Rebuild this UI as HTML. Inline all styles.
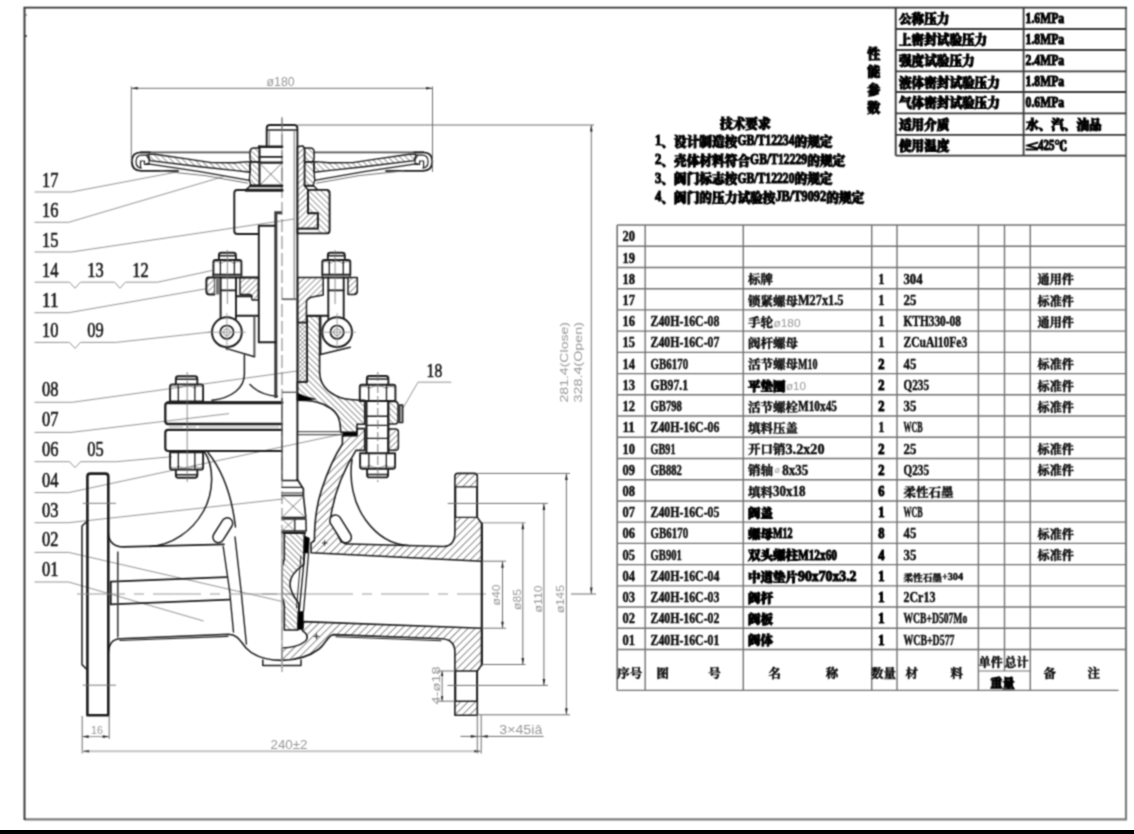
<!DOCTYPE html>
<html lang="zh"><head><meta charset="utf-8"><title>Z40H-16C 闸阀装配图</title>
<style>
html,body{margin:0;padding:0;background:#fff;}
body{width:1134px;height:834px;overflow:hidden;position:relative;font-family:"Liberation Serif","Noto Serif CJK SC",serif;}
svg{position:absolute;left:0;top:0;display:block;}
.t{font-family:"Liberation Serif","Noto Serif CJK SC",serif;font-weight:700;fill:#0a0a0a;stroke:#0a0a0a;stroke-width:.45px;}
.tb{font-family:"Liberation Serif","Noto Serif CJK SC",serif;font-weight:900;fill:#000;stroke:#000;stroke-width:1.05px;}
.n{font-family:"Liberation Serif","Noto Serif CJK SC",serif;font-weight:400;fill:#111;stroke:#111;stroke-width:.55px;}
.d{font-family:"Liberation Sans",sans-serif;font-weight:400;fill:#979797;}
.k{stroke:#1c1c1c;fill:none;stroke-linecap:round;stroke-linejoin:round;}
.g{stroke:#6e6e6e;fill:none;}
.l{stroke:#8e8e8e;fill:none;}
</style></head><body>
<svg width="1134" height="834" viewBox="0 0 1134 834">
<defs>
<filter id="soft" filterUnits="userSpaceOnUse" x="0" y="0" width="1134" height="834" color-interpolation-filters="sRGB"><feConvolveMatrix order="3" kernelMatrix="0.0484 0.1232 0.0484 0.1232 0.3136 0.1232 0.0484 0.1232 0.0484" divisor="1" edgeMode="duplicate" preserveAlpha="false"/></filter>
<pattern id="h1" patternUnits="userSpaceOnUse" width="4.2" height="4.2" patternTransform="rotate(-45)"><line x1="0" y1="0" x2="4.2" y2="0" stroke="#3a3a3a" stroke-width="1"/></pattern>
<pattern id="h2" patternUnits="userSpaceOnUse" width="4.2" height="4.2" patternTransform="rotate(45)"><line x1="0" y1="0" x2="4.2" y2="0" stroke="#3a3a3a" stroke-width="1"/></pattern>
<pattern id="h1b" patternUnits="userSpaceOnUse" width="5.2" height="5.2" patternTransform="rotate(-45)"><line x1="0" y1="0" x2="5.2" y2="0" stroke="#444" stroke-width="1.25"/></pattern>
<pattern id="h3" patternUnits="userSpaceOnUse" width="3.1" height="3.1" patternTransform="rotate(45)"><path d="M0,0H3.1M0,0V3.1" stroke="#333" stroke-width="0.7" fill="none"/></pattern>
</defs>
<g filter="url(#soft)">
<line x1="1126" y1="7.5" x2="1126" y2="820" class="" stroke-width="2.2" stroke="#7d7d7d"/>
<line x1="24.5" y1="819.4" x2="1127" y2="819.4" class="" stroke-width="2.4" stroke="#7d7d7d"/>
<line x1="23.6" y1="7.6" x2="1127" y2="7.6" class="" stroke-width="1.9" stroke="#333"/>
<line x1="24.5" y1="7.5" x2="24.5" y2="820" class="" stroke-width="1.9" stroke="#333"/>
<line x1="25" y1="15" x2="27" y2="15" class="" stroke-width="1" stroke="#555"/>
<line x1="25" y1="36" x2="27" y2="36" class="" stroke-width="1.4" stroke="#333"/>
<line x1="617.2" y1="225" x2="1126" y2="225" class="" stroke-width="1.4" stroke="#707070"/>
<line x1="617.2" y1="246.22" x2="1126" y2="246.22" class="" stroke-width="1.4" stroke="#707070"/>
<line x1="617.2" y1="267.45" x2="1126" y2="267.45" class="" stroke-width="1.4" stroke="#707070"/>
<line x1="617.2" y1="288.68" x2="1126" y2="288.68" class="" stroke-width="1.4" stroke="#707070"/>
<line x1="617.2" y1="309.9" x2="1126" y2="309.9" class="" stroke-width="1.4" stroke="#707070"/>
<line x1="617.2" y1="331.12" x2="1126" y2="331.12" class="" stroke-width="1.4" stroke="#707070"/>
<line x1="617.2" y1="352.35" x2="1126" y2="352.35" class="" stroke-width="1.4" stroke="#707070"/>
<line x1="617.2" y1="373.58" x2="1126" y2="373.58" class="" stroke-width="1.4" stroke="#707070"/>
<line x1="617.2" y1="394.8" x2="1126" y2="394.8" class="" stroke-width="1.4" stroke="#707070"/>
<line x1="617.2" y1="416.02" x2="1126" y2="416.02" class="" stroke-width="1.4" stroke="#707070"/>
<line x1="617.2" y1="437.25" x2="1126" y2="437.25" class="" stroke-width="1.4" stroke="#707070"/>
<line x1="617.2" y1="458.48" x2="1126" y2="458.48" class="" stroke-width="1.4" stroke="#707070"/>
<line x1="617.2" y1="479.7" x2="1126" y2="479.7" class="" stroke-width="1.4" stroke="#707070"/>
<line x1="617.2" y1="500.93" x2="1126" y2="500.93" class="" stroke-width="1.4" stroke="#707070"/>
<line x1="617.2" y1="522.15" x2="1126" y2="522.15" class="" stroke-width="1.4" stroke="#707070"/>
<line x1="617.2" y1="543.38" x2="1126" y2="543.38" class="" stroke-width="1.4" stroke="#707070"/>
<line x1="617.2" y1="564.6" x2="1126" y2="564.6" class="" stroke-width="1.4" stroke="#707070"/>
<line x1="617.2" y1="585.83" x2="1126" y2="585.83" class="" stroke-width="1.4" stroke="#707070"/>
<line x1="617.2" y1="607.05" x2="1126" y2="607.05" class="" stroke-width="1.4" stroke="#707070"/>
<line x1="617.2" y1="628.28" x2="1126" y2="628.28" class="" stroke-width="1.4" stroke="#707070"/>
<line x1="617.2" y1="649.5" x2="1126" y2="649.5" class="" stroke-width="1.4" stroke="#707070"/>
<line x1="617.2" y1="690.4" x2="1118.5" y2="690.4" class="" stroke-width="1.4" stroke="#707070"/>
<line x1="617.2" y1="225" x2="617.2" y2="690.4" class="" stroke-width="1.6" stroke="#707070"/>
<line x1="645.2" y1="225" x2="645.2" y2="690.4" class="" stroke-width="1.4" stroke="#707070"/>
<line x1="743.3" y1="225" x2="743.3" y2="690.4" class="" stroke-width="1.4" stroke="#707070"/>
<line x1="871.7" y1="225" x2="871.7" y2="690.4" class="" stroke-width="1.4" stroke="#707070"/>
<line x1="897" y1="225" x2="897" y2="690.4" class="" stroke-width="1.4" stroke="#707070"/>
<line x1="978.4" y1="225" x2="978.4" y2="690.4" class="" stroke-width="1.4" stroke="#707070"/>
<line x1="1004.5" y1="225" x2="1004.5" y2="671" class="" stroke-width="1.4" stroke="#707070"/>
<line x1="1030.3" y1="225" x2="1030.3" y2="690.4" class="" stroke-width="1.4" stroke="#707070"/>
<line x1="978.4" y1="671" x2="1030.3" y2="671" class="" stroke-width="1.2" stroke="#707070"/>
<text x="622.4" y="241.3" font-size="14.12" class="t" textLength="12.5" lengthAdjust="spacingAndGlyphs">20</text>
<text x="622.4" y="262.52" font-size="14.12" class="t" textLength="12.5" lengthAdjust="spacingAndGlyphs">19</text>
<text x="622.4" y="283.75" font-size="14.12" class="t" textLength="12.5" lengthAdjust="spacingAndGlyphs">18</text>
<text x="748" y="284.45" font-size="12.5" class="t" textLength="25" lengthAdjust="spacingAndGlyphs">标牌</text>
<text x="878.2" y="283.75" font-size="14.12" class="t" textLength="6.25" lengthAdjust="spacingAndGlyphs">1</text>
<text x="903.5" y="283.75" font-size="14.12" class="t" textLength="19.12" lengthAdjust="spacingAndGlyphs">304</text>
<text x="1037.6" y="284.45" font-size="12.1" class="t" textLength="36.3" lengthAdjust="spacingAndGlyphs">通用件</text>
<text x="622.4" y="304.98" font-size="14.12" class="t" textLength="12.5" lengthAdjust="spacingAndGlyphs">17</text>
<text x="748" y="305.68" font-size="12.5" class="t" textLength="50" lengthAdjust="spacingAndGlyphs">锁紧螺母</text>
<text x="798" y="304.98" font-size="14.12" class="t" textLength="45.5" lengthAdjust="spacingAndGlyphs">M27x1.5</text>
<text x="878.2" y="304.98" font-size="14.12" class="t" textLength="6.25" lengthAdjust="spacingAndGlyphs">1</text>
<text x="903.5" y="304.98" font-size="14.12" class="t" textLength="12.75" lengthAdjust="spacingAndGlyphs">25</text>
<text x="1037.6" y="305.68" font-size="12.1" class="t" textLength="36.3" lengthAdjust="spacingAndGlyphs">标准件</text>
<text x="622.4" y="326.2" font-size="14.12" class="t" textLength="12.5" lengthAdjust="spacingAndGlyphs">16</text>
<text x="650.6" y="326.2" font-size="14.12" class="t" textLength="68.75" lengthAdjust="spacingAndGlyphs">Z40H-16C-08</text>
<text x="748" y="326.9" font-size="12.5" class="t" textLength="25" lengthAdjust="spacingAndGlyphs">手轮</text>
<text x="878.2" y="326.2" font-size="14.12" class="t" textLength="6.25" lengthAdjust="spacingAndGlyphs">1</text>
<text x="903.5" y="326.2" font-size="14.12" class="t" textLength="57.38" lengthAdjust="spacingAndGlyphs">KTH330-08</text>
<text x="1037.6" y="326.9" font-size="12.1" class="t" textLength="36.3" lengthAdjust="spacingAndGlyphs">通用件</text>
<text x="622.4" y="347.43" font-size="14.12" class="t" textLength="12.5" lengthAdjust="spacingAndGlyphs">15</text>
<text x="650.6" y="347.43" font-size="14.12" class="t" textLength="68.75" lengthAdjust="spacingAndGlyphs">Z40H-16C-07</text>
<text x="748" y="348.12" font-size="12.5" class="t" textLength="50" lengthAdjust="spacingAndGlyphs">阀杆螺母</text>
<text x="878.2" y="347.43" font-size="14.12" class="t" textLength="6.25" lengthAdjust="spacingAndGlyphs">1</text>
<text x="903.5" y="347.43" font-size="14.12" class="t" textLength="63.75" lengthAdjust="spacingAndGlyphs">ZCuAl10Fe3</text>
<text x="622.4" y="368.65" font-size="14.12" class="t" textLength="12.5" lengthAdjust="spacingAndGlyphs">14</text>
<text x="650.6" y="368.65" font-size="14.12" class="t" textLength="37.5" lengthAdjust="spacingAndGlyphs">GB6170</text>
<text x="748" y="369.35" font-size="12.5" class="t" textLength="50" lengthAdjust="spacingAndGlyphs">活节螺母</text>
<text x="798" y="368.65" font-size="14.12" class="t" textLength="19.5" lengthAdjust="spacingAndGlyphs">M10</text>
<text x="878.2" y="368.65" font-size="14.12" class="tb" textLength="6.25" lengthAdjust="spacingAndGlyphs">2</text>
<text x="903.5" y="368.65" font-size="14.12" class="t" textLength="12.75" lengthAdjust="spacingAndGlyphs">45</text>
<text x="1037.6" y="369.35" font-size="12.1" class="t" textLength="36.3" lengthAdjust="spacingAndGlyphs">标准件</text>
<text x="622.4" y="389.88" font-size="14.12" class="t" textLength="12.5" lengthAdjust="spacingAndGlyphs">13</text>
<text x="650.6" y="389.88" font-size="14.12" class="t" textLength="37.5" lengthAdjust="spacingAndGlyphs">GB97.1</text>
<text x="748" y="390.58" font-size="12.5" class="tb" textLength="37.5" lengthAdjust="spacingAndGlyphs">平垫圈</text>
<text x="878.2" y="389.88" font-size="14.12" class="tb" textLength="6.25" lengthAdjust="spacingAndGlyphs">2</text>
<text x="903.5" y="389.88" font-size="14.12" class="t" textLength="25.5" lengthAdjust="spacingAndGlyphs">Q235</text>
<text x="1037.6" y="390.58" font-size="12.1" class="t" textLength="36.3" lengthAdjust="spacingAndGlyphs">标准件</text>
<text x="622.4" y="411.1" font-size="14.12" class="t" textLength="12.5" lengthAdjust="spacingAndGlyphs">12</text>
<text x="650.6" y="411.1" font-size="14.12" class="t" textLength="31.25" lengthAdjust="spacingAndGlyphs">GB798</text>
<text x="748" y="411.8" font-size="12.5" class="t" textLength="50" lengthAdjust="spacingAndGlyphs">活节螺栓</text>
<text x="798" y="411.1" font-size="14.12" class="t" textLength="39" lengthAdjust="spacingAndGlyphs">M10x45</text>
<text x="878.2" y="411.1" font-size="14.12" class="tb" textLength="6.25" lengthAdjust="spacingAndGlyphs">2</text>
<text x="903.5" y="411.1" font-size="14.12" class="t" textLength="12.75" lengthAdjust="spacingAndGlyphs">35</text>
<text x="1037.6" y="411.8" font-size="12.1" class="t" textLength="36.3" lengthAdjust="spacingAndGlyphs">标准件</text>
<text x="622.4" y="432.32" font-size="14.12" class="t" textLength="12.5" lengthAdjust="spacingAndGlyphs">11</text>
<text x="650.6" y="432.32" font-size="14.12" class="t" textLength="68.75" lengthAdjust="spacingAndGlyphs">Z40H-16C-06</text>
<text x="748" y="433.02" font-size="12.5" class="t" textLength="50" lengthAdjust="spacingAndGlyphs">填料压盖</text>
<text x="878.2" y="432.32" font-size="14.12" class="t" textLength="6.25" lengthAdjust="spacingAndGlyphs">1</text>
<text x="903.5" y="432.32" font-size="14.12" class="t" textLength="19.12" lengthAdjust="spacingAndGlyphs">WCB</text>
<text x="622.4" y="453.55" font-size="14.12" class="t" textLength="12.5" lengthAdjust="spacingAndGlyphs">10</text>
<text x="650.6" y="453.55" font-size="14.12" class="t" textLength="25" lengthAdjust="spacingAndGlyphs">GB91</text>
<text x="748" y="454.25" font-size="12.5" class="t" textLength="37.5" lengthAdjust="spacingAndGlyphs">开口销</text>
<text x="785.5" y="453.55" font-size="14.12" class="t" textLength="39" lengthAdjust="spacingAndGlyphs">3.2x20</text>
<text x="878.2" y="453.55" font-size="14.12" class="tb" textLength="6.25" lengthAdjust="spacingAndGlyphs">2</text>
<text x="903.5" y="453.55" font-size="14.12" class="t" textLength="12.75" lengthAdjust="spacingAndGlyphs">25</text>
<text x="1037.6" y="454.25" font-size="12.1" class="t" textLength="36.3" lengthAdjust="spacingAndGlyphs">标准件</text>
<text x="622.4" y="474.78" font-size="14.12" class="t" textLength="12.5" lengthAdjust="spacingAndGlyphs">09</text>
<text x="650.6" y="474.78" font-size="14.12" class="t" textLength="31.25" lengthAdjust="spacingAndGlyphs">GB882</text>
<text x="748" y="475.48" font-size="12.5" class="t" textLength="25" lengthAdjust="spacingAndGlyphs">销轴</text>
<text x="878.2" y="474.78" font-size="14.12" class="tb" textLength="6.25" lengthAdjust="spacingAndGlyphs">2</text>
<text x="903.5" y="474.78" font-size="14.12" class="t" textLength="25.5" lengthAdjust="spacingAndGlyphs">Q235</text>
<text x="1037.6" y="475.48" font-size="12.1" class="t" textLength="36.3" lengthAdjust="spacingAndGlyphs">标准件</text>
<text x="622.4" y="496" font-size="14.12" class="t" textLength="12.5" lengthAdjust="spacingAndGlyphs">08</text>
<text x="748" y="496.7" font-size="12.5" class="t" textLength="25" lengthAdjust="spacingAndGlyphs">填料</text>
<text x="773" y="496" font-size="14.12" class="t" textLength="32.5" lengthAdjust="spacingAndGlyphs">30x18</text>
<text x="878.2" y="496" font-size="14.12" class="tb" textLength="6.25" lengthAdjust="spacingAndGlyphs">6</text>
<text x="903.5" y="496.7" font-size="12.5" class="t" textLength="50" lengthAdjust="spacingAndGlyphs">柔性石墨</text>
<text x="622.4" y="517.23" font-size="14.12" class="t" textLength="12.5" lengthAdjust="spacingAndGlyphs">07</text>
<text x="650.6" y="517.23" font-size="14.12" class="t" textLength="68.75" lengthAdjust="spacingAndGlyphs">Z40H-16C-05</text>
<text x="748" y="517.93" font-size="12.5" class="tb" textLength="25" lengthAdjust="spacingAndGlyphs">阀盖</text>
<text x="878.2" y="517.23" font-size="14.12" class="tb" textLength="6.25" lengthAdjust="spacingAndGlyphs">1</text>
<text x="903.5" y="517.23" font-size="14.12" class="t" textLength="19.12" lengthAdjust="spacingAndGlyphs">WCB</text>
<text x="622.4" y="538.45" font-size="14.12" class="t" textLength="12.5" lengthAdjust="spacingAndGlyphs">06</text>
<text x="650.6" y="538.45" font-size="14.12" class="t" textLength="37.5" lengthAdjust="spacingAndGlyphs">GB6170</text>
<text x="748" y="539.15" font-size="12.5" class="tb" textLength="25" lengthAdjust="spacingAndGlyphs">螺母</text>
<text x="773" y="538.45" font-size="14.12" class="tb" textLength="19.5" lengthAdjust="spacingAndGlyphs">M12</text>
<text x="878.2" y="538.45" font-size="14.12" class="tb" textLength="6.25" lengthAdjust="spacingAndGlyphs">8</text>
<text x="903.5" y="538.45" font-size="14.12" class="t" textLength="12.75" lengthAdjust="spacingAndGlyphs">45</text>
<text x="1037.6" y="539.15" font-size="12.1" class="t" textLength="36.3" lengthAdjust="spacingAndGlyphs">标准件</text>
<text x="622.4" y="559.67" font-size="14.12" class="t" textLength="12.5" lengthAdjust="spacingAndGlyphs">05</text>
<text x="650.6" y="559.67" font-size="14.12" class="t" textLength="31.25" lengthAdjust="spacingAndGlyphs">GB901</text>
<text x="748" y="560.38" font-size="12.5" class="tb" textLength="50" lengthAdjust="spacingAndGlyphs">双头螺柱</text>
<text x="798" y="559.67" font-size="14.12" class="tb" textLength="39" lengthAdjust="spacingAndGlyphs">M12x60</text>
<text x="878.2" y="559.67" font-size="14.12" class="tb" textLength="6.25" lengthAdjust="spacingAndGlyphs">4</text>
<text x="903.5" y="559.67" font-size="14.12" class="t" textLength="12.75" lengthAdjust="spacingAndGlyphs">35</text>
<text x="1037.6" y="560.38" font-size="12.1" class="t" textLength="36.3" lengthAdjust="spacingAndGlyphs">标准件</text>
<text x="622.4" y="580.9" font-size="14.12" class="t" textLength="12.5" lengthAdjust="spacingAndGlyphs">04</text>
<text x="650.6" y="580.9" font-size="14.12" class="t" textLength="68.75" lengthAdjust="spacingAndGlyphs">Z40H-16C-04</text>
<text x="748" y="581.6" font-size="12.5" class="tb" textLength="50" lengthAdjust="spacingAndGlyphs">中道垫片</text>
<text x="798" y="580.9" font-size="14.12" class="tb" textLength="58.5" lengthAdjust="spacingAndGlyphs">90x70x3.2</text>
<text x="878.2" y="580.9" font-size="14.12" class="tb" textLength="6.25" lengthAdjust="spacingAndGlyphs">1</text>
<text x="903.5" y="581.1" font-size="9.6" class="t" textLength="38.4" lengthAdjust="spacingAndGlyphs">柔性石墨</text>
<text x="941.9" y="580.4" font-size="10.85" class="t" textLength="21.12" lengthAdjust="spacingAndGlyphs">+304</text>
<text x="622.4" y="602.12" font-size="14.12" class="t" textLength="12.5" lengthAdjust="spacingAndGlyphs">03</text>
<text x="650.6" y="602.12" font-size="14.12" class="t" textLength="68.75" lengthAdjust="spacingAndGlyphs">Z40H-16C-03</text>
<text x="748" y="602.83" font-size="12.5" class="tb" textLength="25" lengthAdjust="spacingAndGlyphs">阀杆</text>
<text x="878.2" y="602.12" font-size="14.12" class="tb" textLength="6.25" lengthAdjust="spacingAndGlyphs">1</text>
<text x="903.5" y="602.12" font-size="14.12" class="t" textLength="31.88" lengthAdjust="spacingAndGlyphs">2Cr13</text>
<text x="622.4" y="623.35" font-size="14.12" class="t" textLength="12.5" lengthAdjust="spacingAndGlyphs">02</text>
<text x="650.6" y="623.35" font-size="14.12" class="t" textLength="68.75" lengthAdjust="spacingAndGlyphs">Z40H-16C-02</text>
<text x="748" y="624.05" font-size="12.5" class="tb" textLength="25" lengthAdjust="spacingAndGlyphs">阀板</text>
<text x="878.2" y="623.35" font-size="14.12" class="tb" textLength="6.25" lengthAdjust="spacingAndGlyphs">1</text>
<text x="903.5" y="623.35" font-size="14.12" class="t" textLength="63.75" lengthAdjust="spacingAndGlyphs">WCB+D507Mo</text>
<text x="622.4" y="644.58" font-size="14.12" class="t" textLength="12.5" lengthAdjust="spacingAndGlyphs">01</text>
<text x="650.6" y="644.58" font-size="14.12" class="t" textLength="68.75" lengthAdjust="spacingAndGlyphs">Z40H-16C-01</text>
<text x="748" y="645.28" font-size="12.5" class="tb" textLength="25" lengthAdjust="spacingAndGlyphs">阀体</text>
<text x="878.2" y="644.58" font-size="14.12" class="tb" textLength="6.25" lengthAdjust="spacingAndGlyphs">1</text>
<text x="903.5" y="644.58" font-size="14.12" class="t" textLength="51" lengthAdjust="spacingAndGlyphs">WCB+D577</text>
<text x="773.5" y="326.5" font-size="11.5" class="d" fill="#aaa" textLength="27" lengthAdjust="spacingAndGlyphs">ø180</text>
<text x="786" y="390.18" font-size="11.5" class="d" textLength="20" lengthAdjust="spacingAndGlyphs">ø10</text>
<text x="782.3" y="474.78" font-size="14.12" class="t" textLength="26" lengthAdjust="spacingAndGlyphs">8x35</text>
<text x="774.5" y="473.48" font-size="9" class="d">ø</text>
<text x="617.3" y="678.3" font-size="12.5" class="t" textLength="25" lengthAdjust="spacingAndGlyphs">序号</text>
<text x="656.4" y="678.3" font-size="12.5" class="t" textLength="12.5" lengthAdjust="spacingAndGlyphs">图</text>
<text x="708.3" y="678.3" font-size="12.5" class="t" textLength="12.5" lengthAdjust="spacingAndGlyphs">号</text>
<text x="768.5" y="678.3" font-size="12.5" class="t" textLength="12.5" lengthAdjust="spacingAndGlyphs">名</text>
<text x="825.8" y="678.3" font-size="12.5" class="t" textLength="12.5" lengthAdjust="spacingAndGlyphs">称</text>
<text x="871" y="678.3" font-size="12.5" class="t" textLength="25" lengthAdjust="spacingAndGlyphs">数量</text>
<text x="905.6" y="678.3" font-size="12.5" class="t" textLength="12.5" lengthAdjust="spacingAndGlyphs">材</text>
<text x="950.4" y="678.3" font-size="12.5" class="t" textLength="12.5" lengthAdjust="spacingAndGlyphs">料</text>
<text x="978.7" y="667.3" font-size="12" class="t" textLength="24" lengthAdjust="spacingAndGlyphs">单件</text>
<text x="1004.6" y="667.3" font-size="12" class="t" textLength="24" lengthAdjust="spacingAndGlyphs">总计</text>
<text x="990.3" y="687.5" font-size="12.2" class="tb" textLength="24.4" lengthAdjust="spacingAndGlyphs">重量</text>
<text x="1043.4" y="678.3" font-size="12.5" class="t" textLength="12.5" lengthAdjust="spacingAndGlyphs">备</text>
<text x="1087.5" y="678.3" font-size="12.5" class="t" textLength="12.5" lengthAdjust="spacingAndGlyphs">注</text>
<line x1="895.7" y1="29" x2="1126" y2="29" class="" stroke-width="1.8" stroke="#383838"/>
<line x1="895.7" y1="50" x2="1126" y2="50" class="" stroke-width="1.8" stroke="#383838"/>
<line x1="895.7" y1="71.3" x2="1126" y2="71.3" class="" stroke-width="1.8" stroke="#383838"/>
<line x1="895.7" y1="92" x2="1126" y2="92" class="" stroke-width="1.8" stroke="#383838"/>
<line x1="895.7" y1="113.3" x2="1126" y2="113.3" class="" stroke-width="1.8" stroke="#383838"/>
<line x1="895.7" y1="134.8" x2="1126" y2="134.8" class="" stroke-width="1.8" stroke="#383838"/>
<line x1="895.7" y1="155.6" x2="1126" y2="155.6" class="" stroke-width="1.8" stroke="#383838"/>
<line x1="895.7" y1="7.8" x2="895.7" y2="155.6" class="" stroke-width="1.9" stroke="#383838"/>
<line x1="1023.6" y1="7.8" x2="1023.6" y2="155.6" class="" stroke-width="1.8" stroke="#383838"/>
<text x="899" y="23.2" font-size="12.6" class="tb" textLength="50.4" lengthAdjust="spacingAndGlyphs">公称压力</text>
<text x="1025.6" y="22.5" font-size="14.24" class="tb" textLength="38.56" lengthAdjust="spacingAndGlyphs">1.6MPa</text>
<text x="899" y="44.4" font-size="12.6" class="tb" textLength="88.2" lengthAdjust="spacingAndGlyphs">上密封试验压力</text>
<text x="1025.6" y="43.7" font-size="14.24" class="tb" textLength="38.56" lengthAdjust="spacingAndGlyphs">1.8MPa</text>
<text x="899" y="65.4" font-size="12.6" class="tb" textLength="75.6" lengthAdjust="spacingAndGlyphs">强度试验压力</text>
<text x="1025.6" y="64.7" font-size="14.24" class="tb" textLength="38.56" lengthAdjust="spacingAndGlyphs">2.4MPa</text>
<text x="899" y="86.7" font-size="12.6" class="tb" textLength="100.8" lengthAdjust="spacingAndGlyphs">液体密封试验压力</text>
<text x="1025.6" y="86" font-size="14.24" class="tb" textLength="38.56" lengthAdjust="spacingAndGlyphs">1.8MPa</text>
<text x="899" y="107.4" font-size="12.6" class="tb" textLength="100.8" lengthAdjust="spacingAndGlyphs">气体密封试验压力</text>
<text x="1025.6" y="106.7" font-size="14.24" class="tb" textLength="38.56" lengthAdjust="spacingAndGlyphs">0.6MPa</text>
<text x="899" y="128.7" font-size="12.6" class="tb" textLength="50.4" lengthAdjust="spacingAndGlyphs">适用介质</text>
<text x="1026" y="128.7" font-size="12.6" class="tb" textLength="75.6" lengthAdjust="spacingAndGlyphs">水、汽、油品</text>
<text x="899" y="150.2" font-size="12.6" class="tb" textLength="50.4" lengthAdjust="spacingAndGlyphs">使用温度</text>
<text x="1026" y="150.2" font-size="12.6" class="tb" textLength="12.6" lengthAdjust="spacingAndGlyphs">≤</text>
<text x="1038" y="149.5" font-size="14.24" class="tb" textLength="16.63" lengthAdjust="spacingAndGlyphs">425</text>
<text x="1054.5" y="150.2" font-size="12.6" class="tb" textLength="12.6" lengthAdjust="spacingAndGlyphs">℃</text>
<text x="867.2" y="58" font-size="13" class="tb" textLength="13" lengthAdjust="spacingAndGlyphs">性</text>
<text x="867.2" y="75.9" font-size="13" class="tb" textLength="13" lengthAdjust="spacingAndGlyphs">能</text>
<text x="867.2" y="93.8" font-size="13" class="tb" textLength="13" lengthAdjust="spacingAndGlyphs">参</text>
<text x="867.2" y="111.7" font-size="13" class="tb" textLength="13" lengthAdjust="spacingAndGlyphs">数</text>
<text x="720" y="127.5" font-size="12.68" class="tb" textLength="50.72" lengthAdjust="spacingAndGlyphs">技术要求</text>
<text x="655" y="145.2" font-size="14.33" class="tb" textLength="6.34" lengthAdjust="spacingAndGlyphs">1</text>
<text x="661.34" y="145.9" font-size="12.68" class="tb" textLength="76.08" lengthAdjust="spacingAndGlyphs">、设计制造按</text>
<text x="737.42" y="145.2" font-size="14.33" class="tb" textLength="57.06" lengthAdjust="spacingAndGlyphs">GB/T12234</text>
<text x="794.48" y="145.9" font-size="12.68" class="tb" textLength="38.04" lengthAdjust="spacingAndGlyphs">的规定</text>
<text x="655" y="163.85" font-size="14.33" class="tb" textLength="6.34" lengthAdjust="spacingAndGlyphs">2</text>
<text x="661.34" y="164.55" font-size="12.68" class="tb" textLength="88.76" lengthAdjust="spacingAndGlyphs">、壳体材料符合</text>
<text x="750.1" y="163.85" font-size="14.33" class="tb" textLength="57.06" lengthAdjust="spacingAndGlyphs">GB/T12229</text>
<text x="807.16" y="164.55" font-size="12.68" class="tb" textLength="38.04" lengthAdjust="spacingAndGlyphs">的规定</text>
<text x="655" y="182.5" font-size="14.33" class="tb" textLength="6.34" lengthAdjust="spacingAndGlyphs">3</text>
<text x="661.34" y="183.2" font-size="12.68" class="tb" textLength="76.08" lengthAdjust="spacingAndGlyphs">、阀门标志按</text>
<text x="737.42" y="182.5" font-size="14.33" class="tb" textLength="57.06" lengthAdjust="spacingAndGlyphs">GB/T12220</text>
<text x="794.48" y="183.2" font-size="12.68" class="tb" textLength="38.04" lengthAdjust="spacingAndGlyphs">的规定</text>
<text x="655" y="201.15" font-size="14.33" class="tb" textLength="6.34" lengthAdjust="spacingAndGlyphs">4</text>
<text x="661.34" y="201.85" font-size="12.68" class="tb" textLength="114.12" lengthAdjust="spacingAndGlyphs">、阀门的压力试验按</text>
<text x="775.46" y="201.15" font-size="14.33" class="tb" textLength="50.72" lengthAdjust="spacingAndGlyphs">JB/T9092</text>
<text x="826.18" y="201.85" font-size="12.68" class="tb" textLength="38.04" lengthAdjust="spacingAndGlyphs">的规定</text>
<text x="42" y="187" font-size="20" class="n" textLength="16.4" lengthAdjust="spacingAndGlyphs" stroke="#111" stroke-width=".55">17</text>
<path d="M34.5,192 L71.4,192" class="l" stroke-width="0.95" />
<line x1="71.4" y1="192" x2="174" y2="172.5" class="l" stroke-width="0.95" />
<text x="42" y="217" font-size="20" class="n" textLength="16.4" lengthAdjust="spacingAndGlyphs" stroke="#111" stroke-width=".55">16</text>
<path d="M34.5,222.3 L68.7,222.3" class="l" stroke-width="0.95" />
<line x1="68.7" y1="222.3" x2="223.3" y2="176.6" class="l" stroke-width="0.95" />
<text x="42" y="247" font-size="20" class="n" textLength="16.4" lengthAdjust="spacingAndGlyphs" stroke="#111" stroke-width=".55">15</text>
<path d="M34.5,252 L71.4,252" class="l" stroke-width="0.95" />
<line x1="71.4" y1="252" x2="294" y2="219" class="l" stroke-width="0.95" />
<text x="42" y="277" font-size="20" class="n" textLength="16.4" lengthAdjust="spacingAndGlyphs" stroke="#111" stroke-width=".55">14</text>
<text x="87.3" y="277" font-size="20" class="n" textLength="16.4" lengthAdjust="spacingAndGlyphs" stroke="#111" stroke-width=".55">13</text>
<text x="132.3" y="277" font-size="20" class="n" textLength="16.4" lengthAdjust="spacingAndGlyphs" stroke="#111" stroke-width=".55">12</text>
<path d="M34.5,282.2 L69.5,282.2 L75,288.2 L80.5,282.2 L114.5,282.2 L120,288.2 L125.5,282.2 L157.7,282.2" class="l" stroke-width="0.95" />
<line x1="157.7" y1="282.2" x2="212" y2="270.5" class="l" stroke-width="0.95" />
<text x="42" y="306.6" font-size="20" class="n" textLength="16.4" lengthAdjust="spacingAndGlyphs" stroke="#111" stroke-width=".55">11</text>
<path d="M34.5,312.7 L68.7,312.7" class="l" stroke-width="0.95" />
<line x1="68.7" y1="312.7" x2="207" y2="288.6" class="l" stroke-width="0.95" />
<text x="42" y="336.5" font-size="20" class="n" textLength="16.4" lengthAdjust="spacingAndGlyphs" stroke="#111" stroke-width=".55">10</text>
<text x="87.3" y="336.5" font-size="20" class="n" textLength="16.4" lengthAdjust="spacingAndGlyphs" stroke="#111" stroke-width=".55">09</text>
<path d="M34.5,342.4 L69.5,342.4 L75,348.4 L80.5,342.4 L116.3,342.4" class="l" stroke-width="0.95" />
<line x1="116.3" y1="342.4" x2="227" y2="330.2" class="l" stroke-width="0.95" />
<text x="42" y="396.3" font-size="20" class="n" textLength="16.4" lengthAdjust="spacingAndGlyphs" stroke="#111" stroke-width=".55">08</text>
<path d="M34.5,402.3 L72.3,402.3" class="l" stroke-width="0.95" />
<line x1="72.3" y1="402.3" x2="297" y2="371" class="l" stroke-width="0.95" />
<text x="42" y="426.4" font-size="20" class="n" textLength="16.4" lengthAdjust="spacingAndGlyphs" stroke="#111" stroke-width=".55">07</text>
<path d="M34.5,432.4 L71,432.4" class="l" stroke-width="0.95" />
<line x1="71" y1="432.4" x2="229" y2="413.6" class="l" stroke-width="0.95" />
<text x="42" y="456.2" font-size="20" class="n" textLength="16.4" lengthAdjust="spacingAndGlyphs" stroke="#111" stroke-width=".55">06</text>
<text x="87.3" y="456.2" font-size="20" class="n" textLength="16.4" lengthAdjust="spacingAndGlyphs" stroke="#111" stroke-width=".55">05</text>
<path d="M34.5,461.7 L69.5,461.7 L75,467.7 L80.5,461.7 L116.3,461.7" class="l" stroke-width="0.95" />
<line x1="116.3" y1="461.7" x2="172" y2="456.7" class="l" stroke-width="0.95" />
<text x="42" y="486.5" font-size="20" class="n" textLength="16.4" lengthAdjust="spacingAndGlyphs" stroke="#111" stroke-width=".55">04</text>
<path d="M34.5,492.6 L68.7,492.6" class="l" stroke-width="0.95" />
<line x1="68.7" y1="492.6" x2="342" y2="434" class="l" stroke-width="0.95" />
<text x="42" y="516.6" font-size="20" class="n" textLength="16.4" lengthAdjust="spacingAndGlyphs" stroke="#111" stroke-width=".55">03</text>
<path d="M34.5,522.7 L68.7,522.7" class="l" stroke-width="0.95" />
<line x1="68.7" y1="522.7" x2="283" y2="499" class="l" stroke-width="0.95" />
<text x="42" y="546.4" font-size="20" class="n" textLength="16.4" lengthAdjust="spacingAndGlyphs" stroke="#111" stroke-width=".55">02</text>
<path d="M34.5,552.4 L68.7,552.4" class="l" stroke-width="0.95" />
<line x1="68.7" y1="552.4" x2="284.5" y2="602" class="l" stroke-width="0.95" />
<text x="42" y="576.2" font-size="20" class="n" textLength="16.4" lengthAdjust="spacingAndGlyphs" stroke="#111" stroke-width=".55">01</text>
<path d="M34.5,582 L68.7,582" class="l" stroke-width="0.95" />
<line x1="68.7" y1="582" x2="203.6" y2="621" class="l" stroke-width="0.95" />
<text x="426.6" y="376.6" font-size="19.5" class="n" textLength="15.6" lengthAdjust="spacingAndGlyphs" stroke="#111" stroke-width=".55">18</text>
<path d="M451.4,382.2 L418,382.2 L403,408" class="l" stroke-width="0.95" />
<path d="M87.4,715.2 V476.5 Q87.4,473.6 90.3,473.6 H105.4 Q108.3,473.6 108.3,476.5 V715.2 Z" class="k" stroke-width="2.6" />
<path d="M87.4,521 L82,526 V664.6 L87.4,670" class="k" stroke-width="1.5" />
<line x1="82.7" y1="503.3" x2="116" y2="503.3" class="g" stroke-width="0.9" />
<line x1="82.7" y1="685.2" x2="116" y2="685.2" class="g" stroke-width="0.9" />
<path d="M108.3,533 C108.8,542 113,546.8 123.5,546.9 L224,544.4" class="k" stroke-width="1.6" />
<path d="M204.6,452 C214,466 214.5,492 203,512 C192,531 172,545.5 150,546.4" class="k" stroke-width="1.5" />
<path d="M208,452.5 C222,470 232,497 235.5,527 " class="k" stroke-width="1.5" />
<path d="M223.05,540.14 L231.85,526.24 A5.5,5.5 0 0 0 222.55,520.36 L213.75,534.26 A5.5,5.5 0 0 0 223.05,540.14 Z" class="k" stroke-width="1.5" />
<path d="M223.2,546.5 L229.5,590 L233.5,632" class="k" stroke-width="1.4" />
<path d="M235,537 L241,590 L246.4,644" class="k" stroke-width="1.4" />
<path d="M226.2,577.2 L110.8,581.6 V604.4 L229.2,599.6" class="k" stroke-width="1.7" />
<line x1="117.8" y1="551.5" x2="117.8" y2="637.5" class="" stroke-width="1.7" stroke="#444"/>
<path d="M108.3,653 C108.8,644 113,639 120,638.7 L228.4,634.3 C238,634.5 240,641 246,648 C254,656.5 266,660.3 282,660.4" class="k" stroke-width="1.6" />
<path d="M120,640.5 L228,636.3" class="k" stroke-width="1.2" />
<line x1="77" y1="594" x2="486" y2="594" class="l" stroke-width="0.9" stroke-dasharray="48 9 10 9"/>
<line x1="262" y1="594" x2="305" y2="594" class="l" stroke-width="0.9" />
<path d="M262.8,660 V665.6 H301 V660" class="k" stroke-width="1.5" />
<path d="M282,660.4 C296,660 310,656 319,649 C326,643.5 327.5,635.5 333.4,634.6 L442,638.8 C450,639.3 454.7,643 454.9,652 V715.2 H477.3 V671 L481.8,664.6 V628.2 L303.4,621.6 L302.4,630.6 C307,633.5 309,638 305,641.5 C300,645.5 292,647.6 282,648 Z" class="k" stroke-width="1.6" style="fill:url(#h1b)" />
<rect x="455.6" y="671" width="21.2" height="30.2" rx="0" class="k" stroke-width="1.4" style="fill:#fff"/>
<path d="M336,636.7 L441,640.8" class="k" stroke-width="1.1" />
<path d="M342.4,435.8 H357 V428.6 H364.7 V450.4 H356 C348,463 336.5,485 331.5,512 L330.6,521 L341,541.5 L346,544 L351,544 L444,546.5 C451.5,546 454.8,541.5 454.9,533 V476.4 Q454.9,473.4 457.9,473.4 H474.3 Q477.3,473.4 477.3,476.4 V517.4 L481.8,523.6 V561.2 L311,552.7 L311,543.2 L314.4,540.5 C314.5,520 316.5,505 321.5,490 C328,470 336.5,453 342.4,444 Z" class="k" stroke-width="1.6" style="fill:url(#h1b)" />
<rect x="455.6" y="486.9" width="21.2" height="30.5" rx="0" class="k" stroke-width="1.4" style="fill:#fff"/>
<line x1="481.8" y1="523" x2="481.8" y2="665" class="k" stroke-width="2.2" />
<path d="M352,459.5 C349,480 353,503 366,520.5 C377,535.5 392,544.6 408,545.4" class="k" stroke-width="1.5" />
<path d="M330.65,523.57 L341.05,540.17 A5.6,5.6 0 0 0 350.55,534.23 L340.15,517.63 A5.6,5.6 0 0 0 330.65,523.57 Z" class="k" stroke-width="1.5" style="fill:#fff" />
<line x1="322.3" y1="543" x2="327.1" y2="543" class="k" stroke-width="1.0" />
<line x1="324.7" y1="540.6" x2="324.7" y2="545.4" class="k" stroke-width="1.0" />
<line x1="314" y1="636.3" x2="318.8" y2="636.3" class="k" stroke-width="1.0" />
<line x1="316.4" y1="633.9" x2="316.4" y2="638.7" class="k" stroke-width="1.0" />
<rect x="297.6" y="322.5" width="9.4" height="59.5" rx="0" class="k" stroke-width="1.3" style="fill:url(#h3)"/>
<path d="M307.2,316 H319.6 V372 C319.8,384 327,392.5 340,397.5 C346,399.6 352,400.2 364.7,400.2 V424.2 H357 V432.3 H340.6 C340.6,420 338,413.5 331,408.5 C322,402 312,400.6 297.4,400 V382 H307.2 Z" class="k" stroke-width="1.6" style="fill:url(#h2)" />
<path d="M297.4,393 L304.5,396 L316,399.2 L304,400.8 L297.4,400.8 Z" class="k" stroke-width="0.5" style="fill:#000" />
<rect x="342.5" y="432.2" width="14.5" height="3.6" rx="0" class="k" stroke-width="0.5" style="fill:#000"/>
<line x1="297.4" y1="431.6" x2="342.5" y2="431.6" class="" stroke-width="1.3" stroke="#555"/>
<line x1="297.4" y1="434.6" x2="342.5" y2="434.6" class="" stroke-width="1.3" stroke="#555"/>
<path d="M244.4,355 V374 C244.4,388 232,398 212,400.3" class="k" stroke-width="1.5" />
<path d="M250,384.5 C256,391 265,395.5 277.4,396.2" class="k" stroke-width="1.4" />
<path d="M282,402.7 H168.3 Q165.3,402.7 165.3,405.7 V421 Q165.3,424 168.3,424 H282" class="k" stroke-width="2.3" />
<path d="M282,429.8 H168.3 Q165.3,429.8 165.3,432.8 V448 Q165.3,451 168.3,451 H282" class="k" stroke-width="2.2" />
<line x1="168" y1="402.7" x2="282" y2="402.7" class="k" stroke-width="2.9" />
<line x1="169" y1="426.9" x2="282" y2="426.9" class="" stroke-width="0.8" stroke="#999" stroke-dasharray="14 3 10 3 80 3"/>
<path d="M170.1,401.4 V386.6 Q170.1,384.4 172.3,384.4 H200.9 Q203.1,384.4 203.1,386.6 V401.4 Z" class="k" stroke-width="1.9" />
<path d="M175.85,384.4 V378.7 Q175.85,376.2 178.35,376.2 H194.85 Q197.35,376.2 197.35,378.7 V384.4" class="k" stroke-width="1.9" />
<line x1="176.35" y1="379.2" x2="196.85" y2="379.2" class="k" stroke-width="1.5" />
<path d="M170.1,387.9 Q174.22,383.9 178.35,387.9 Q186.6,382.9 194.85,387.9 Q198.97,383.9 203.1,387.9" class="g" stroke-width="0.9" />
<line x1="178.35" y1="385.4" x2="178.35" y2="401.4" class="k" stroke-width="1.3" />
<line x1="194.85" y1="385.4" x2="194.85" y2="401.4" class="k" stroke-width="1.3" />
<path d="M170.1,452.2 V467.4 Q170.1,469.6 172.3,469.6 H200.9 Q203.1,469.6 203.1,467.4 V452.2 Z" class="k" stroke-width="1.9" />
<path d="M175.85,469.6 V475.3 Q175.85,477.8 178.35,477.8 H194.85 Q197.35,477.8 197.35,475.3 V469.6" class="k" stroke-width="1.9" />
<line x1="176.35" y1="474.8" x2="196.85" y2="474.8" class="k" stroke-width="1.5" />
<path d="M170.1,466.1 Q174.22,470.1 178.35,466.1 Q186.6,471.1 194.85,466.1 Q198.97,470.1 203.1,466.1" class="g" stroke-width="0.9" />
<line x1="178.35" y1="452.2" x2="178.35" y2="468.6" class="k" stroke-width="1.3" />
<line x1="194.85" y1="452.2" x2="194.85" y2="468.6" class="k" stroke-width="1.3" />
<line x1="187.2" y1="372" x2="187.2" y2="482" class="g" stroke-width="0.8" />
<path d="M359.8,401 V387 Q359.8,384.8 362,384.8 H393.2 Q395.4,384.8 395.4,387 V401 Z" class="k" stroke-width="1.9" />
<path d="M366.85,384.8 V378.5 Q366.85,376 369.35,376 H385.85 Q388.35,376 388.35,378.5 V384.8" class="k" stroke-width="1.9" />
<line x1="367.35" y1="379" x2="387.85" y2="379" class="k" stroke-width="1.5" />
<path d="M359.8,388.3 Q364.25,384.3 368.7,388.3 Q377.6,383.3 386.5,388.3 Q390.95,384.3 395.4,388.3" class="g" stroke-width="0.9" />
<line x1="368.7" y1="385.8" x2="368.7" y2="401" class="k" stroke-width="1.3" />
<line x1="386.5" y1="385.8" x2="386.5" y2="401" class="k" stroke-width="1.3" />
<path d="M360.1,453.2 V466.6 Q360.1,468.8 362.3,468.8 H392.9 Q395.1,468.8 395.1,466.6 V453.2 Z" class="k" stroke-width="1.9" />
<path d="M367.1,468.8 V474.9 Q367.1,477.4 369.6,477.4 H385.6 Q388.1,477.4 388.1,474.9 V468.8" class="k" stroke-width="1.9" />
<line x1="367.6" y1="474.4" x2="387.6" y2="474.4" class="k" stroke-width="1.5" />
<path d="M360.1,465.3 Q364.48,469.3 368.85,465.3 Q377.6,470.3 386.35,465.3 Q390.73,469.3 395.1,465.3" class="g" stroke-width="0.9" />
<line x1="368.85" y1="453.2" x2="368.85" y2="467.8" class="k" stroke-width="1.3" />
<line x1="386.35" y1="453.2" x2="386.35" y2="467.8" class="k" stroke-width="1.3" />
<line x1="366.4" y1="401" x2="366.4" y2="453.2" class="k" stroke-width="2.2" />
<line x1="388.3" y1="401" x2="388.3" y2="453.2" class="k" stroke-width="2.2" />
<line x1="366.4" y1="416.2" x2="388.3" y2="416.2" class="k" stroke-width="1.4" />
<line x1="366.4" y1="425.4" x2="388.3" y2="425.4" class="k" stroke-width="1.4" />
<line x1="366.4" y1="438.4" x2="388.3" y2="438.4" class="k" stroke-width="1.4" />
<line x1="377.8" y1="372" x2="377.8" y2="482" class="g" stroke-width="0.9" stroke-dasharray="9 3"/>
<path d="M388.3,401.6 H395 Q398,401.6 398,404.6 V421 Q398,424 395,424 H388.3 Z" class="k" stroke-width="1.5" style="fill:url(#h2)" />
<path d="M388.3,429 H395.4 Q398.4,429 398.4,432 V447.2 Q398.4,450.2 395.4,450.2 H388.3 Z" class="k" stroke-width="1.5" style="fill:url(#h1)" />
<rect x="399.2" y="405" width="3.6" height="17.6" rx="0" class="k" stroke-width="1.3" style="fill:#999"/>
<path d="M297.4,479.5 L303.4,489 V495.5 H282" class="k" stroke-width="1.7" />
<line x1="282" y1="480.5" x2="297.6" y2="480.5" class="k" stroke-width="1.4" />
<line x1="282" y1="487.4" x2="302.5" y2="487.4" class="k" stroke-width="1.4" />
<line x1="282" y1="493" x2="303.4" y2="493" class="k" stroke-width="1.2" />
<path d="M303.4,495.5 L305.8,517.5 H282" class="k" stroke-width="1.6" />
<line x1="282" y1="496" x2="305.4" y2="517.5" class="g" stroke-width="0.9" />
<line x1="282" y1="517.5" x2="303.6" y2="496" class="g" stroke-width="0.9" />
<path d="M282,519 H305.9 L306.2,531 H282" class="k" stroke-width="1.5" />
<line x1="294.8" y1="519" x2="294.8" y2="531" class="k" stroke-width="1.3" />
<line x1="282" y1="519" x2="294.8" y2="531" class="g" stroke-width="0.8" />
<line x1="282" y1="531" x2="294.8" y2="519" class="g" stroke-width="0.8" />
<path d="M284.3,533 H304.5 L303.7,564.7 C296,570 290,577 290,584 C290,592 295,598 298.8,603.6 L298,630 H284.3 V606 C284.3,603 282.5,600 282.2,597 V568 C282.5,564 284.3,561 284.3,558 Z" class="k" stroke-width="1.6" style="fill:url(#h2)" />
<line x1="282" y1="533" x2="305" y2="533" class="k" stroke-width="2.2" />
<path d="M304.6,536 L309.4,538 L308.6,553 L303.9,553 Z" class="k" stroke-width="0.6" style="fill:#000" />
<path d="M298.4,611.5 L303.5,611.5 L303.2,629.5 L297.6,629.5 Z" class="k" stroke-width="0.6" style="fill:#000" />
<line x1="304.8" y1="553" x2="299.2" y2="611.5" class="k" stroke-width="1.4" />
<line x1="308.6" y1="553" x2="303.5" y2="611.5" class="k" stroke-width="1.3" />
<line x1="301" y1="556" x2="296.5" y2="608" class="k" stroke-width="1.0" />
<path d="M213.4,274.6 V262.2 Q213.4,260 215.6,260 H239.2 Q241.4,260 241.4,262.2 V274.6 Z" class="k" stroke-width="1.9" />
<path d="M218.9,260 V255.3 Q218.9,252.8 221.4,252.8 H233.4 Q235.9,252.8 235.9,255.3 V260" class="k" stroke-width="1.9" />
<line x1="219.4" y1="255.8" x2="235.4" y2="255.8" class="k" stroke-width="1.5" />
<path d="M213.4,263.5 Q216.9,259.5 220.4,263.5 Q227.4,258.5 234.4,263.5 Q237.9,259.5 241.4,263.5" class="g" stroke-width="0.9" />
<line x1="220.4" y1="261" x2="220.4" y2="274.6" class="k" stroke-width="1.3" />
<line x1="234.4" y1="261" x2="234.4" y2="274.6" class="k" stroke-width="1.3" />
<path d="M322.3,274.6 V262.2 Q322.3,260 324.5,260 H348.1 Q350.3,260 350.3,262.2 V274.6 Z" class="k" stroke-width="1.9" />
<path d="M327.8,260 V255.3 Q327.8,252.8 330.3,252.8 H342.3 Q344.8,252.8 344.8,255.3 V260" class="k" stroke-width="1.9" />
<line x1="328.3" y1="255.8" x2="344.3" y2="255.8" class="k" stroke-width="1.5" />
<path d="M322.3,263.5 Q325.8,259.5 329.3,263.5 Q336.3,258.5 343.3,263.5 Q346.8,259.5 350.3,263.5" class="g" stroke-width="0.9" />
<line x1="329.3" y1="261" x2="329.3" y2="274.6" class="k" stroke-width="1.3" />
<line x1="343.3" y1="261" x2="343.3" y2="274.6" class="k" stroke-width="1.3" />
<rect x="213" y="274.6" width="28.6" height="2.8" rx="0" class="k" stroke-width="1.2"/>
<rect x="322.2" y="274.6" width="28" height="2.8" rx="0" class="k" stroke-width="1.2"/>
<path d="M258.4,277.5 H209 Q206.4,277.5 206.4,280 V291.5 Q206.4,294.5 209.5,294.5 H214.4" class="k" stroke-width="1.9" />
<path d="M209,277.5 H214.4 V294.5 H209.5 Q206.4,294.5 206.4,291.5 V280 Q206.4,277.5 209,277.5Z" class="k" stroke-width="0.8" style="fill:url(#h1)" />
<rect x="215.8" y="278" width="3.6" height="16.5" rx="0" class="" stroke-width="0" style="fill:#777"/>
<path d="M240,277.5 V294.5 H250.6 L252.2,300 H258.4 V277.5 Z" class="k" stroke-width="1.4" style="fill:url(#h1)" />
<path d="M297.6,277.6 H323.2 V295 L313.5,296.8 Q308,297.5 306.5,301.5 V322.5 H297.6 Z" class="k" stroke-width="1.5" style="fill:url(#h1)" />
<path d="M348,277.6 H357.3 V291.5 Q357.3,294.4 354,294.4 H348 Z" class="k" stroke-width="1.5" style="fill:url(#h1)" />
<line x1="323.2" y1="277.6" x2="348" y2="277.6" class="k" stroke-width="1.9" />
<line x1="220.6" y1="277.5" x2="220.6" y2="318.5" class="k" stroke-width="1.9" />
<line x1="236" y1="277.5" x2="236" y2="318.5" class="k" stroke-width="1.9" />
<line x1="220.6" y1="290.4" x2="236" y2="290.4" class="k" stroke-width="1.6" />
<line x1="227.4" y1="250" x2="227.4" y2="304" class="g" stroke-width="0.8" />
<line x1="328.3" y1="277.5" x2="328.3" y2="318.5" class="k" stroke-width="1.9" />
<line x1="343.7" y1="277.5" x2="343.7" y2="318.5" class="k" stroke-width="1.9" />
<line x1="328.3" y1="290.4" x2="343.7" y2="290.4" class="k" stroke-width="1.6" />
<line x1="335.1" y1="250" x2="335.1" y2="304" class="g" stroke-width="0.8" />
<circle cx="226.9" cy="332.2" r="14.9" class="k" stroke-width="2.0" style="fill:#fff"/>
<circle cx="226.9" cy="332.2" r="6.7" class="k" stroke-width="1.7"/>
<circle cx="226.9" cy="332.2" r="3.4" class="g" stroke-width="0.8"/>
<line x1="207.9" y1="332.2" x2="245.9" y2="332.2" class="l" stroke-width="0.8" />
<line x1="226.9" y1="313" x2="226.9" y2="351" class="l" stroke-width="0.8" />
<circle cx="337.1" cy="332.2" r="14.9" class="k" stroke-width="2.0" style="fill:#fff"/>
<circle cx="337.1" cy="332.2" r="6.7" class="k" stroke-width="1.7"/>
<circle cx="337.1" cy="332.2" r="3.4" class="g" stroke-width="0.8"/>
<line x1="318.1" y1="332.2" x2="356.1" y2="332.2" class="l" stroke-width="0.8" />
<line x1="337.1" y1="313" x2="337.1" y2="351" class="l" stroke-width="0.8" />
<path d="M236,296.2 H252 M236,315.7 H258.4" class="k" stroke-width="1.9" />
<line x1="254.4" y1="315.7" x2="254.4" y2="357" class="" stroke-width="2.0" stroke="#555"/>
<line x1="226" y1="348.4" x2="254.4" y2="356.8" class="k" stroke-width="1.5" />
<path d="M306.5,315.8 H328.3" class="k" stroke-width="2.0" />
<line x1="320.8" y1="316" x2="320.8" y2="354" class="k" stroke-width="1.3" />
<line x1="350.3" y1="347.2" x2="320.4" y2="354.4" class="k" stroke-width="1.5" />
<path d="M282,190 H237.3 Q234.3,190 234.3,193 V231 Q234.3,234 237.3,234 H258.5" class="k" stroke-width="1.9" />
<path d="M282,212.8 H275.8 V398" class="" stroke-width="3.0" stroke="#3a3a3a" fill="none"/>
<path d="M274.7,225.8 H258.8 V342.2" class="k" stroke-width="1.9" />
<line x1="258.8" y1="342.2" x2="275.8" y2="342.2" class="k" stroke-width="1.9" />
<path d="M308,189.9 H326.6 Q329.6,189.9 329.6,192.9 V230.4 Q329.6,233.4 326.6,233.4 H297.4 V228.6 H317.8 V213.3 H308 Z" class="k" stroke-width="1.9" />
<path d="M308,189.9 H326.6 Q329.6,189.9 329.6,192.9 V230.4 Q329.6,233.4 326.6,233.4 H317.8 V213.3 H308 Z" class="k" stroke-width="0.1" style="fill:url(#h2)" />
<line x1="140" y1="152.4" x2="250" y2="152.4" class="" stroke-width="1.9" stroke="#555"/>
<line x1="314" y1="152.4" x2="424" y2="152.4" class="" stroke-width="1.9" stroke="#555"/>
<path d="M150,152.4 H141 C134,152.4 131.8,156.5 131.8,161.6 C131.8,166.8 134,170.9 141,170.9 H178" class="k" stroke-width="1.9" />
<path d="M147,155.2 H142 C137.5,155.2 136,158.5 136,161.6 C136,165 137.5,168 141.5,168" class="k" stroke-width="1.2" />
<path d="M140.5,168 V161 H144.5 V164.5 H149 V159.5 L146.5,155.5" class="k" stroke-width="1.2" />
<path d="M148,154.4 L154.6,154.2 L185,158.6 L211.4,162.6 L235,162.8 L249,161.6 L250,162 L250,172.3 L236,170.6 L200,166.8 L150,160.6 Z" class="k" stroke-width="1.4" style="fill:url(#h2)" />
<path d="M146.5,163.6 L200,171.6 L249.5,180.4" class="k" stroke-width="1.4" />
<path d="M160,170.9 L205,175.6 L248,183.2" class="g" stroke-width="1.0" />
<path d="M250,162 L259.5,162 L259.5,185.5 L251,185.5 L249.3,180.4 L250,172.3 Z" class="k" stroke-width="1.4" style="fill:url(#h2)" />
<path d="M259.5,148 H254 Q250,148 250,152 V158 Q250,162 254,162 H259.5 Z" class="k" stroke-width="1.5" style="fill:url(#h2)" />
<path d="M414.1,152.4 H423.1 C430.1,152.4 432.3,156.5 432.3,161.6 C432.3,166.8 430.1,170.9 423.1,170.9 H386.1" class="k" stroke-width="1.9" />
<path d="M417.1,155.2 H422.1 C426.6,155.2 428.1,158.5 428.1,161.6 C428.1,165 426.6,168 422.6,168" class="k" stroke-width="1.2" />
<path d="M423.6,168 V161 H419.6 V164.5 H415.1 V159.5 L417.6,155.5" class="k" stroke-width="1.2" />
<path d="M416.1,154.4 L409.5,154.2 L379.1,158.6 L352.7,162.6 L329.1,162.8 L315.1,161.6 L314.1,162 L314.1,172.3 L328.1,170.6 L364.1,166.8 L414.1,160.6 Z" class="k" stroke-width="1.4" style="fill:url(#h2)" />
<path d="M417.6,163.6 L364.1,171.6 L314.6,180.4" class="k" stroke-width="1.4" />
<path d="M404.1,170.9 L359.1,175.6 L316.1,183.2" class="g" stroke-width="1.0" />
<path d="M314.1,162 L304.6,162 L304.6,185.5 L313.1,185.5 L314.8,180.4 L314.1,172.3 Z" class="k" stroke-width="1.4" style="fill:url(#h2)" />
<path d="M304.6,148 H310.1 Q314.1,148 314.1,152 V158 Q314.1,162 310.1,162 H304.6 Z" class="k" stroke-width="1.5" style="fill:url(#h2)" />
<path d="M266.7,145.6 V128.2 Q266.7,125 269.9,125 H294.2 Q297.4,125 297.4,128.2 V479.5" class="k" stroke-width="1.9" />
<line x1="267" y1="130" x2="297" y2="130" class="k" stroke-width="1.5" />
<line x1="269.2" y1="130" x2="269.2" y2="145.6" class="g" stroke-width="1.0" />
<line x1="294.2" y1="130" x2="294.2" y2="299" class="g" stroke-width="1.0" />
<line x1="282" y1="299.2" x2="297" y2="299.2" class="" stroke-width="1.8" stroke="#666"/>
<line x1="282" y1="117" x2="282" y2="672" class="g" stroke-width="0.9" stroke-dasharray="13 4"/>
<line x1="282" y1="392.3" x2="297" y2="392.3" class="" stroke-width="1.3" stroke="#555"/>
<line x1="282" y1="118" x2="282" y2="190" class="g" stroke-width="0.8" />
<line x1="282" y1="398" x2="282" y2="480" class="" stroke-width="1.5" stroke="#555"/>
<line x1="282" y1="533" x2="282" y2="668" class="" stroke-width="1.5" stroke="#aaa"/>
<line x1="259" y1="146.8" x2="282" y2="146.8" class="k" stroke-width="2.6" />
<line x1="259.5" y1="146" x2="259.5" y2="185.5" class="k" stroke-width="1.7" />
<line x1="259.5" y1="156.8" x2="282" y2="156.8" class="k" stroke-width="1.8" />
<line x1="259.5" y1="162.6" x2="282" y2="162.6" class="k" stroke-width="2.2" />
<line x1="259.5" y1="163" x2="282" y2="185.5" class="g" stroke-width="0.9" />
<line x1="259.5" y1="185.5" x2="282" y2="163" class="g" stroke-width="0.9" />
<line x1="250.5" y1="185.8" x2="282" y2="185.8" class="k" stroke-width="2.7" />
<line x1="246" y1="190.2" x2="282" y2="190.2" class="k" stroke-width="3.0" />
<line x1="246" y1="189.9" x2="250.5" y2="185.8" class="k" stroke-width="1.5" />
<path d="M297.4,146.6 L303,146 L304.5,148.5 L304.5,185.5 L308,189.8 L308,213.3 L317.8,213.3 L317.8,228.6 L297.4,228.6 Z" class="k" stroke-width="1.5" style="fill:url(#h1)" />
<line x1="304.5" y1="185.8" x2="313.5" y2="185.8" class="k" stroke-width="1.8" />
<line x1="313.5" y1="185.8" x2="318" y2="189.9" class="k" stroke-width="1.4" />
<line x1="131.3" y1="86.5" x2="131.3" y2="162" class="g" stroke-width="1.0" />
<line x1="432.5" y1="86.5" x2="432.5" y2="172" class="g" stroke-width="1.0" />
<line x1="131.3" y1="88.3" x2="432.5" y2="88.3" class="g" stroke-width="1.0" />
<path d="M131.3,88.3 L137.8,87 L137.8,89.6 Z" fill="#222" stroke="none"/>
<path d="M432.5,88.3 L426,89.6 L426,87 Z" fill="#222" stroke="none"/>
<text x="266.6" y="85.8" font-size="12" class="d" textLength="28" lengthAdjust="spacingAndGlyphs">ø180</text>
<line x1="297.4" y1="125" x2="594" y2="125" class="g" stroke-width="1.0" />
<line x1="591.3" y1="125" x2="591.3" y2="594" class="g" stroke-width="1.0" />
<path d="M591.3,125 L592.6,131.5 L590,131.5 Z" fill="#222" stroke="none"/>
<path d="M591.3,594 L590,587.5 L592.6,587.5 Z" fill="#222" stroke="none"/>
<line x1="571" y1="594" x2="596" y2="594" class="g" stroke-width="1.0" />
<text x="568" y="402.5" font-size="11.5" class="d" textLength="80.5" lengthAdjust="spacingAndGlyphs" transform="rotate(-90 568 402.5)">281.4(Close)</text>
<text x="581.5" y="402.5" font-size="11.5" class="d" textLength="80.5" lengthAdjust="spacingAndGlyphs" transform="rotate(-90 581.5 402.5)">328.4(Open)</text>
<line x1="502.5" y1="561.2" x2="502.5" y2="628.2" class="g" stroke-width="1.0" />
<path d="M502.5,561.2 L503.8,567.7 L501.2,567.7 Z" fill="#222" stroke="none"/>
<path d="M502.5,628.2 L501.2,621.7 L503.8,621.7 Z" fill="#222" stroke="none"/>
<line x1="522.8" y1="522.8" x2="522.8" y2="664.5" class="g" stroke-width="1.0" />
<path d="M522.8,522.8 L524.1,529.3 L521.5,529.3 Z" fill="#222" stroke="none"/>
<path d="M522.8,664.5 L521.5,658 L524.1,658 Z" fill="#222" stroke="none"/>
<line x1="543.9" y1="503.4" x2="543.9" y2="685.4" class="g" stroke-width="1.0" />
<path d="M543.9,503.4 L545.2,509.9 L542.6,509.9 Z" fill="#222" stroke="none"/>
<path d="M543.9,685.4 L542.6,678.9 L545.2,678.9 Z" fill="#222" stroke="none"/>
<line x1="566.4" y1="473.4" x2="566.4" y2="714.8" class="g" stroke-width="1.0" />
<path d="M566.4,473.4 L567.7,479.9 L565.1,479.9 Z" fill="#222" stroke="none"/>
<path d="M566.4,714.8 L565.1,708.3 L567.7,708.3 Z" fill="#222" stroke="none"/>
<line x1="481.8" y1="561.2" x2="506" y2="561.2" class="g" stroke-width="1.0" />
<line x1="481.8" y1="628.2" x2="506" y2="628.2" class="g" stroke-width="1.0" />
<line x1="481.8" y1="522.8" x2="525.5" y2="522.8" class="l" stroke-width="1.0" />
<line x1="481.8" y1="664.5" x2="525.5" y2="664.5" class="g" stroke-width="1.0" />
<line x1="447.7" y1="503.4" x2="548" y2="503.4" class="g" stroke-width="1.0" />
<line x1="447.5" y1="685.4" x2="548" y2="685.4" class="g" stroke-width="1.0" />
<line x1="477.3" y1="473.4" x2="570" y2="473.4" class="g" stroke-width="1.0" />
<line x1="477.3" y1="714.8" x2="570" y2="714.8" class="g" stroke-width="1.0" />
<text x="500" y="605.5" font-size="11.5" class="d" textLength="21" lengthAdjust="spacingAndGlyphs" transform="rotate(-90 500 605.5)">ø40</text>
<text x="520.5" y="610" font-size="11.5" class="d" textLength="21" lengthAdjust="spacingAndGlyphs" transform="rotate(-90 520.5 610)">ø85</text>
<text x="541.5" y="612.5" font-size="11.5" class="d" textLength="27" lengthAdjust="spacingAndGlyphs" transform="rotate(-90 541.5 612.5)">ø110</text>
<text x="563.5" y="613" font-size="11.5" class="d" textLength="28" lengthAdjust="spacingAndGlyphs" transform="rotate(-90 563.5 613)">ø145</text>
<line x1="437" y1="671" x2="455" y2="671" class="g" stroke-width="1.0" />
<line x1="437" y1="701.2" x2="455" y2="701.2" class="g" stroke-width="1.0" />
<line x1="442.1" y1="671" x2="442.1" y2="701.2" class="g" stroke-width="1.0" />
<path d="M442.1,671 L443.3,676 L440.9,676 Z" fill="#222" stroke="none"/>
<path d="M442.1,701.2 L440.9,696.2 L443.3,696.2 Z" fill="#222" stroke="none"/>
<text x="439.5" y="704.5" font-size="11" class="d" textLength="38" lengthAdjust="spacingAndGlyphs" transform="rotate(-90 439.5 704.5)">4-ø18</text>
<line x1="460.4" y1="736.4" x2="543.6" y2="736.4" class="g" stroke-width="1.0" />
<path d="M477.3,736.4 L470.8,737.7 L470.8,735.1 Z" fill="#222" stroke="none"/>
<path d="M481.2,736.4 L487.7,735.1 L487.7,737.7 Z" fill="#222" stroke="none"/>
<text x="499.3" y="733.6" font-size="12" class="d" textLength="43" lengthAdjust="spacingAndGlyphs">3×45iâ</text>
<line x1="477.3" y1="715" x2="477.3" y2="753.5" class="g" stroke-width="1.0" />
<line x1="481.2" y1="715" x2="481.2" y2="753.5" class="g" stroke-width="1.0" />
<line x1="82.2" y1="716" x2="82.2" y2="753.5" class="g" stroke-width="1.0" />
<line x1="109.2" y1="716" x2="109.2" y2="739" class="g" stroke-width="1.0" />
<line x1="82.2" y1="736.6" x2="109.2" y2="736.6" class="l" stroke-width="1.0" />
<path d="M82.2,736.6 L88.7,735.3 L88.7,737.9 Z" fill="#222" stroke="none"/>
<path d="M109.2,736.6 L102.7,737.9 L102.7,735.3 Z" fill="#222" stroke="none"/>
<text x="91" y="733.5" font-size="11.5" class="d" textLength="12" lengthAdjust="spacingAndGlyphs">16</text>
<line x1="82.2" y1="751.3" x2="481.2" y2="751.3" class="" stroke-width="2" stroke="#c4c4c4"/>
<path d="M82.2,751.3 L89.2,750 L89.2,752.6 Z" fill="#444" stroke="none"/>
<path d="M481.2,751.3 L474.2,752.6 L474.2,750 Z" fill="#444" stroke="none"/>
<text x="270.5" y="748.6" font-size="12" class="d" textLength="37" lengthAdjust="spacingAndGlyphs">240±2</text>
</g>
<rect x="0" y="830" width="1134" height="4" fill="#000"/>
</svg></body></html>
